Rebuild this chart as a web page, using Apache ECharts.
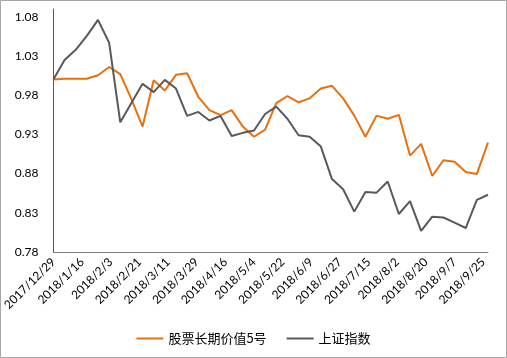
<!DOCTYPE html>
<html>
<head>
<meta charset="utf-8">
<script src="https://cdn.jsdelivr.net/npm/echarts@6/dist/echarts.min.js"></script>
<style>html,body{margin:0;padding:0;background:#fff;}#c{width:507px;height:358px;}</style>
</head>
<body>
<div id="c"></div>
<script>
var dates = ['2017/12/29','2018/1/5','2018/1/12','2018/1/19','2018/1/26','2018/2/2','2018/2/9','2018/2/16','2018/2/23','2018/3/2',
'2018/3/9','2018/3/16','2018/3/23','2018/3/30','2018/4/6','2018/4/13','2018/4/20','2018/4/27','2018/5/4','2018/5/11',
'2018/5/18','2018/5/25','2018/6/1','2018/6/8','2018/6/15','2018/6/22','2018/6/29','2018/7/6','2018/7/13','2018/7/20',
'2018/7/27','2018/8/3','2018/8/10','2018/8/17','2018/8/24','2018/8/31','2018/9/7','2018/9/14','2018/9/21','2018/9/28'];
var fundName = '股票长期价值5号';
var indexName = '上证指数';
var fund = [1.000,1.001,1.001,1.001,1.0055,1.016,1.007,0.975,0.940,0.999,
0.986,1.006,1.008,0.978,0.961,0.9545,0.961,0.940,0.927,0.936,
0.970,0.979,0.971,0.976,0.9885,0.992,0.976,0.954,0.927,0.954,
0.950,0.955,0.903,0.918,0.877,0.897,0.895,0.882,0.8796,0.9196];
var sz = [1.000,1.025,1.038,1.0557,1.0762,1.047,0.9455,0.970,0.9945,0.984,
0.9996,0.9885,0.9536,0.9587,0.9477,0.9536,0.928,0.932,0.935,0.956,
0.9655,0.950,0.929,0.927,0.9145,0.873,0.860,0.8315,0.8566,0.8557,
0.870,0.8285,0.845,0.807,0.825,0.824,0.8174,0.8106,0.8464,0.853];
var yMin = 0.78, yMax = 1.09, yStep = 0.05;
var xStepDays = 18;

function toUTC(s){var p=s.split('/');return Date.UTC(+p[0],+p[1]-1,+p[2]);}
var t0 = toUTC(dates[0]);
var DAY = 86400000;
var offs = dates.map(function(d){return Math.round((toUTC(d)-t0)/DAY);});
function fmtDay(v){var d=new Date(t0+v*DAY);return d.getUTCFullYear()+'/'+(d.getUTCMonth()+1)+'/'+d.getUTCDate();}

var chart = echarts.init(document.getElementById('c'));
var font = 'Lato, "Noto Sans CJK SC", sans-serif';
chart.setOption({
  animation:false,
  backgroundColor:'#fff',
  graphic:[{type:'rect',shape:{x:0.5,y:0.5,width:506,height:357},style:{fill:'none',stroke:'#a6a6a6',lineWidth:1},silent:true}],
  grid:{left:49,right:19,top:9,bottom:106},
  legend:{top:327,left:'center',itemWidth:27,itemHeight:2,itemGap:20,icon:'rect',
    textStyle:{fontFamily:'"Noto Sans CJK SC", sans-serif',fontSize:13,color:'#000'},
    data:[fundName,indexName]},
  xAxis:{type:'value',min:0,max:offs[offs.length-1],interval:xStepDays,
    axisLine:{lineStyle:{color:'#7f7f7f',width:1}},
    axisTick:{show:false},splitLine:{show:false},
    axisLabel:{rotate:45,fontSize:12,fontFamily:font,color:'#000',margin:8,showMaxLabel:false,
      formatter:function(v){return (v%xStepDays===0)?fmtDay(v):'';}}},
  yAxis:{type:'value',min:yMin,max:yMax,interval:yStep,
    axisLine:{show:true,lineStyle:{color:'#595959',width:1}},
    axisTick:{show:false},splitLine:{show:false},
    axisLabel:{fontSize:12,fontFamily:font,color:'#000',margin:15,showMaxLabel:false,
      formatter:function(v){return Math.abs(v-yMax)<1e-6?'':v.toFixed(2);}}},
  series:[
    {name:fundName,type:'line',symbol:'none',data:offs.map(function(x,i){return [x,fund[i]];}),
      lineStyle:{color:'#E8700F',width:2},itemStyle:{color:'#E8700F'}},
    {name:indexName,type:'line',symbol:'none',data:offs.map(function(x,i){return [x,sz[i]];}),
      lineStyle:{color:'#595959',width:2},itemStyle:{color:'#595959'}}
  ]
});
</script>
</body>
</html>
